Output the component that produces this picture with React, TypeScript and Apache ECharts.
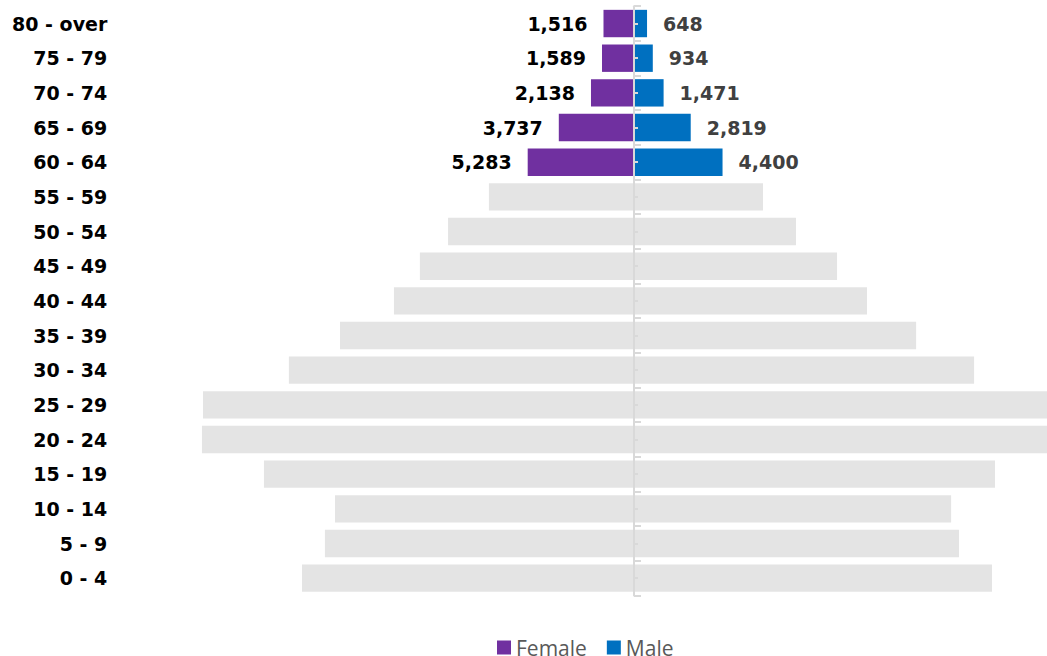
import React, { useEffect, useRef } from "react";
import * as echarts from "echarts";

const ageGroups = [
  "0 - 4", "5 - 9", "10 - 14", "15 - 19", "20 - 24", "25 - 29", "30 - 34", "35 - 39",
  "40 - 44", "45 - 49", "50 - 54", "55 - 59", "60 - 64", "65 - 69", "70 - 74", "75 - 79", "80 - over",
];
const femaleValues = [16500, 15360, 14860, 18390, 21470, 21420, 17150, 14610, 11930, 10640, 9240, 7210, 5283, 3737, 2138, 1589, 1516];
const maleValues = [17790, 16150, 15760, 17940, 21100, 21000, 16900, 14020, 11580, 10090, 8050, 6410, 4400, 2819, 1471, 934, 648];
const highlightedGroups = ["60 - 64", "65 - 69", "70 - 74", "75 - 79", "80 - over"];

const FEMALE = "#7030A0";
const MALE = "#0070C0";
const GREY = "#E4E4E4";
const AXIS = "#D9D9D9";
const LABEL_FONT = "'DejaVu Sans', sans-serif";

const GRID_LEFT = 191.3;
const CENTER_X = 634;

const fmt = (v: number) => Math.abs(v).toLocaleString("en-US");

export default function App() {
  const ref = useRef<HTMLDivElement>(null);
  useEffect(() => {
    if (!ref.current) return;
    const chart = echarts.init(ref.current, undefined, { renderer: "svg" });
    const makeData = (values: number[], sign: number) =>
      values.map((v, i) => {
        const hi = highlightedGroups.includes(ageGroups[i]);
        return {
          value: sign * v,
          itemStyle: hi ? undefined : { color: GREY },
          label: { show: hi },
        };
      });
    const valueLabel = {
      fontFamily: LABEL_FONT,
      fontWeight: "bold" as const,
      fontSize: 19,
      distance: 16,
      formatter: (p: any) => fmt(p.value),
    };
    chart.setOption({
      animation: false,
      grid: {
        left: GRID_LEFT,
        right: -29.7,
        top: 6.2,
        bottom: 60.5,
        containLabel: false,
        outerBoundsMode: "none",
      },
      legend: {
        data: ["Female", "Male"],
        left: 497,
        top: 637,
        padding: 0,
        icon: "rect",
        itemWidth: 14,
        itemHeight: 14,
        itemGap: 20,
        selectedMode: false,
        textStyle: { fontFamily: "'Open Sans', sans-serif", fontSize: 21, lineHeight: 21, color: "#595959" },
      },
      xAxis: {
        type: "value",
        min: -22000,
        max: 22000,
        show: false,
        splitLine: { show: false },
      },
      yAxis: [
        {
          type: "category",
          data: ageGroups,
          position: "left",
          z: 10,
          axisLine: { show: true, onZero: true, lineStyle: { color: AXIS, width: 2 } },
          axisTick: { show: true, inside: true, length: 7, lineStyle: { color: AXIS, width: 2 } },
          axisLabel: { show: false },
          splitLine: { show: false },
        },
        {
          type: "category",
          data: ageGroups,
          position: "left",
          axisLine: { show: false, onZero: false },
          axisTick: { show: false },
          axisLabel: {
            show: true,
            margin: 84,
            fontFamily: LABEL_FONT,
            fontWeight: "bold",
            fontSize: 19,
            color: "#000000",
          },
          splitLine: { show: false },
        },
        {
          type: "category",
          data: ageGroups,
          position: "left",
          offset: GRID_LEFT - CENTER_X,
          z: 10,
          axisLine: { show: false, onZero: false },
          axisTick: { show: true, inside: true, alignWithLabel: true, length: 4, lineStyle: { color: AXIS, width: 2 } },
          axisLabel: { show: false },
          splitLine: { show: false },
        },
      ],
      series: [
        {
          name: "Female",
          type: "bar",
          stack: "pop",
          yAxisIndex: 0,
          barWidth: "79%",
          itemStyle: { color: FEMALE },
          emphasis: { disabled: true },
          label: { ...valueLabel, show: false, position: "left", color: "#000000" },
          data: makeData(femaleValues, -1),
        },
        {
          name: "Male",
          type: "bar",
          stack: "pop",
          yAxisIndex: 0,
          barWidth: "79%",
          itemStyle: { color: MALE },
          emphasis: { disabled: true },
          label: { ...valueLabel, show: false, position: "right", color: "#404040" },
          data: makeData(maleValues, 1),
        },
      ],
    });
    return () => chart.dispose();
  }, []);
  return <div ref={ref} style={{ position: "absolute", left: 0, top: 0, width: 1047, height: 656 }} />;
}
